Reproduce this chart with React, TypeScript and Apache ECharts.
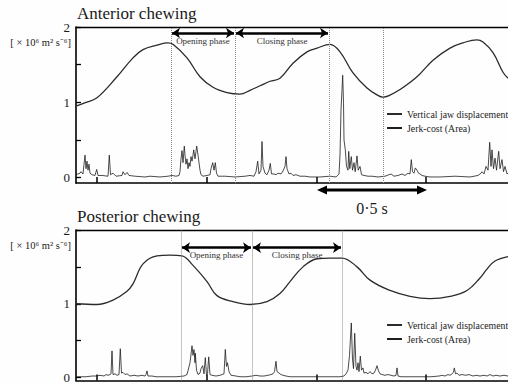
import React, { useEffect, useRef } from 'react';
import * as echarts from 'echarts';

// x values are sample indices (220 samples per second); y values in 10^6 m^2 s^-6 / jaw scale
const X_MAX = 432;
const X_TICKS = [21, 131, 241, 350];
const Y_TICKS = [0, 0.5, 1, 1.5, 2];
const Y_LABELS = [0, 1, 2];
const SCALE_BAR = [241, 351]; // 0.5 s
const SERIES_NAMES = ['Vertical jaw displacement', 'Jerk-cost (Area)'];
const TITLES = ['Anterior chewing', 'Posterior chewing'];
const UNIT_LABEL = '[ × 10⁶ m² s⁻⁶]';
const PHASE_LABELS = ['Opening phase', 'Closing phase'];
const SCALE_LABEL = '0·5 s';

const topBounds = [95, 159, 253, 307];
const bottomBounds = [105, 176, 266];
const topArrowLevel = 1.92;
const bottomArrowLevel = 1.76;

const topJaw: [number, number][] = [
  [0, 0.95], [10, 1.0], [21, 1.06], [41, 1.34], [57, 1.59], [67, 1.7], [81, 1.76], [92, 1.79],
  [97, 1.77], [111, 1.59], [124, 1.34], [137, 1.2], [151, 1.13], [164, 1.11], [174, 1.16],
  [184, 1.22], [194, 1.28], [204, 1.32], [217, 1.52], [231, 1.67], [241, 1.72], [254, 1.77],
  [264, 1.67], [277, 1.39], [291, 1.19], [301, 1.1], [307, 1.07], [313, 1.09], [324, 1.17],
  [341, 1.34], [357, 1.56], [374, 1.72], [387, 1.79], [401, 1.83], [407, 1.8], [417, 1.66],
  [427, 1.4], [432, 1.32],
];

const topJerk: [number, number][] = [
  [0, 0.04], [4, 0.06], [5, 0.08], [7, 0.05], [8, 0.18], [9, 0.3], [10, 0.12], [11, 0.22], [12, 0.1],
  [13, 0.18], [14, 0.06], [16, 0.04], [19, 0.03], [20.7, 0.11], [22, 0.03], [26, 0.03], [32, 0.02],
  [33.3, 0.3], [34.5, 0.04], [37, 0.06], [40, 0.02], [46, 0.03], [47, 0.08], [49, 0.04], [51, 0.07],
  [53, 0.03], [59, 0.02], [69, 0.01], [74, 0.02], [84, 0.01], [92, 0.02], [96, 0.03], [100, 0.02],
  [103, 0.03], [104, 0.08], [105, 0.25], [106, 0.36], [107, 0.2], [108.3, 0.42], [109, 0.3], [110, 0.18],
  [111, 0.25], [112, 0.12], [113, 0.2], [114, 0.15], [115, 0.28], [116, 0.22], [117, 0.3], [117.7, 0.37],
  [119, 0.25], [120, 0.35], [120.7, 0.42], [122, 0.3], [123, 0.2], [124, 0.1], [125, 0.04], [127, 0.02],
  [131, 0.03], [134, 0.04], [135, 0.12], [136.7, 0.2], [138, 0.1], [139.3, 0.2], [140.5, 0.06], [142, 0.02],
  [149, 0.02], [159, 0.01], [169, 0.02], [174, 0.03], [178, 0.02], [180, 0.08], [181.7, 0.22], [183, 0.05],
  [185, 0.1], [186, 0.48], [187, 0.15], [189, 0.06], [191, 0.04], [193, 0.1], [194.3, 0.19], [195.5, 0.05],
  [198, 0.05], [200, 0.04], [202, 0.06], [205, 0.05], [207, 0.09], [209, 0.15], [210, 0.28], [211, 0.12],
  [213, 0.05], [215, 0.06], [217, 0.03], [220, 0.04], [224, 0.02], [229, 0.02], [234, 0.01], [244, 0.01],
  [254, 0.02], [260, 0.01], [263, 0.05], [264, 0.3], [265, 0.9], [266, 1.17], [266.7, 1.36], [267.5, 1.0],
  [268, 0.5], [269.3, 0.37], [270.5, 0.15], [272, 0.1], [272.7, 0.35], [273.8, 0.12], [275.3, 0.28],
  [276.5, 0.1], [278, 0.2], [279.2, 0.08], [281, 0.29], [282.2, 0.1], [284, 0.15], [285.5, 0.04],
  [288, 0.03], [292, 0.02], [296, 0.02], [302, 0.01], [309, 0.02], [313, 0.04], [315, 0.05], [318, 0.02],
  [322, 0.03], [326, 0.05], [329, 0.03], [332, 0.06], [334, 0.05], [335.3, 0.24], [336.5, 0.08], [338, 0.06],
  [339.3, 0.13], [341, 0.1], [342.5, 0.06], [344, 0.05], [346, 0.03], [349, 0.02], [354, 0.01], [364, 0.01],
  [379, 0.02], [394, 0.01], [402, 0.03], [405, 0.06], [406, 0.08], [408, 0.05], [410, 0.15], [412, 0.1],
  [413.7, 0.47], [415, 0.15], [416, 0.37], [417.5, 0.12], [419, 0.26], [420.5, 0.1], [422.7, 0.35],
  [424, 0.12], [426, 0.24], [427.5, 0.08], [429, 0.15], [431, 0.05], [432, 0.06],
];

const bottomJaw: [number, number][] = [
  [0, 1.0], [21, 0.99], [37, 1.05], [51, 1.17], [57, 1.27], [67, 1.54], [81, 1.65], [94, 1.66],
  [106, 1.65], [117, 1.52], [131, 1.3], [141, 1.11], [157, 1.03], [174, 0.99], [191, 1.03], [204, 1.14],
  [214, 1.3], [227, 1.5], [241, 1.61], [254, 1.62], [266, 1.62], [281, 1.5], [294, 1.32], [314, 1.18],
  [334, 1.1], [354, 1.07], [374, 1.1], [391, 1.18], [404, 1.35], [411, 1.47], [419, 1.58], [432, 1.64],
];

const bottomJerk: [number, number][] = [
  [0, 0.01], [10, 0.01], [16, 0.02], [20, 0.02], [24, 0.03], [28, 0.02], [30, 0.04], [32, 0.03], [34, 0.04],
  [35, 0.05], [36, 0.36], [37, 0.04], [39, 0.05], [41, 0.03], [43, 0.04], [44.3, 0.39], [45.5, 0.06],
  [47, 0.07], [49, 0.04], [51, 0.05], [54, 0.02], [58, 0.03], [62, 0.02], [66, 0.03], [69, 0.02], [70, 0.04],
  [71, 0.09], [72, 0.02], [76, 0.02], [80, 0.01], [90, 0.01], [100, 0.01], [108, 0.02], [111, 0.04],
  [114, 0.2], [116, 0.43], [117, 0.3], [118, 0.38], [119, 0.2], [119.3, 0.33], [120.5, 0.1], [122, 0.04],
  [124, 0.06], [125, 0.12], [126.7, 0.16], [128, 0.05], [129.3, 0.27], [130.5, 0.03], [131.5, 0.05],
  [132.7, 0.28], [134, 0.04], [136, 0.03], [140, 0.02], [144, 0.03], [146, 0.04], [148, 0.05], [149.3, 0.38],
  [150.5, 0.15], [151.5, 0.2], [153, 0.08], [155, 0.03], [160, 0.02], [164, 0.01], [170, 0.01], [176, 0.02],
  [180, 0.03], [184, 0.02], [188, 0.02], [192, 0.03], [195, 0.04], [197, 0.05], [198.5, 0.08], [200, 0.22],
  [201, 0.08], [203, 0.06], [205, 0.04], [207, 0.03], [210, 0.02], [214, 0.01], [230, 0.01], [250, 0.01],
  [264, 0.01], [268, 0.02], [270, 0.05], [272, 0.1], [273.5, 0.3], [275.3, 0.74], [276.5, 0.25],
  [277.5, 0.12], [278.7, 0.6], [280, 0.15], [281, 0.1], [282, 0.2], [283, 0.08], [284.3, 0.29], [285.5, 0.1],
  [287, 0.13], [288, 0.06], [290, 0.07], [292, 0.05], [294, 0.08], [296, 0.05], [298, 0.06], [299.5, 0.1],
  [301, 0.16], [302.5, 0.09], [304, 0.05], [306, 0.04], [309, 0.03], [312, 0.04], [315, 0.03], [318, 0.02],
  [320, 0.03], [321, 0.13], [322, 0.02], [325, 0.01], [335, 0.01], [345, 0.01], [355, 0.01], [363, 0.02],
  [366, 0.03], [369, 0.02], [372, 0.04], [374, 0.03], [376, 0.05], [377.5, 0.07], [378.3, 0.13],
  [379.5, 0.05], [381, 0.06], [383, 0.03], [386, 0.04], [390, 0.03], [393, 0.04], [397, 0.02], [400, 0.03],
  [404, 0.02], [408, 0.03], [411, 0.02], [414, 0.04], [417, 0.02], [420, 0.03], [424, 0.02], [428, 0.03],
  [432, 0.02],
];

const FONT = "'Liberation Serif', 'Times New Roman', serif";
const INK = '#1a1a1a';

function xAxes(gridIndex: number) {
  return [
    {
      type: 'value', gridIndex, position: 'bottom', min: 0, max: X_MAX,
      axisLine: { show: true, onZero: false, lineStyle: { color: '#000', width: 1.6 } },
      axisTick: { show: true, inside: true, length: 6, customValues: X_TICKS, lineStyle: { color: '#000', width: 1.5 } },
      axisLabel: { show: false }, splitLine: { show: false },
    },
    {
      type: 'value', gridIndex, position: 'top', min: 0, max: X_MAX,
      axisLine: { show: true, onZero: false, lineStyle: { color: '#000', width: 1.3 } },
      axisTick: { show: false }, axisLabel: { show: false }, splitLine: { show: false },
    },
  ];
}

function yAxis(gridIndex: number, min: number) {
  return {
    type: 'value', gridIndex, min, max: 2,
    axisLine: { show: true, onZero: false, lineStyle: { color: '#000', width: 1.6 } },
    axisTick: { show: true, inside: true, length: 5, customValues: Y_TICKS, lineStyle: { color: '#000', width: 1.3 } },
    axisLabel: { show: true, customValues: Y_LABELS, fontSize: 13, fontFamily: FONT, color: INK, margin: 6 },
    splitLine: { show: false },
  };
}

function arrowLines(bounds: number[], level: number) {
  return [0, 1].map((i) => [
    {
      coord: [bounds[i] + 1, level],
      label: {
        show: true, formatter: PHASE_LABELS[i], position: 'insideMiddleBottom', distance: 3,
        fontSize: 9, fontFamily: FONT, color: '#333',
      },
    },
    { coord: [bounds[i + 1] - 1, level] },
  ]);
}

function panelSeries(jaw: [number, number][], jerk: [number, number][], xIdx: number, yIdx: number, bounds: number[], level: number) {
  return [
    {
      name: SERIES_NAMES[0], type: 'line', xAxisIndex: xIdx, yAxisIndex: yIdx, data: jaw,
      smooth: 0.4, symbol: 'none', silent: true,
      lineStyle: { color: '#2b2b2b', width: 1.3 }, itemStyle: { color: '#2b2b2b' },
      markLine: {
        silent: true, symbol: ['arrow', 'arrow'], symbolSize: 8, animation: false,
        lineStyle: { color: '#000', width: 2.6, type: 'solid' },
        data: arrowLines(bounds, level),
      },
    },
    {
      name: SERIES_NAMES[1], type: 'line', xAxisIndex: xIdx, yAxisIndex: yIdx, data: jerk,
      symbol: 'none', silent: true,
      lineStyle: { color: '#1e1e1e', width: 0.8 }, itemStyle: { color: '#1e1e1e' },
      markLine: {
        silent: true, symbol: 'none', animation: false,
        lineStyle: { color: '#8a8a8a', width: 1, type: 'dotted' },
        label: { show: false },
        data: bounds.map((b) => ({ xAxis: b })),
      },
    },
  ];
}

function legend(left: number, top: number) {
  return {
    left, top, orient: 'vertical', itemWidth: 15, itemHeight: 10, itemGap: 4, padding: 0,
    selectedMode: false, data: SERIES_NAMES,
    itemStyle: { color: 'rgba(0,0,0,0)', borderWidth: 0 },
    textStyle: { fontSize: 9.8, fontFamily: FONT, color: '#222' },
  };
}

export default function App() {
  const ref = useRef<HTMLDivElement>(null);
  useEffect(() => {
    if (!ref.current) return;
    const chart = echarts.init(ref.current, undefined, { renderer: 'svg' });
    chart.setOption({
      animation: false,
      backgroundColor: '#fefefe',
      grid: [
        { left: 76, top: 27, width: 432, height: 156 },
        { left: 76, top: 230, width: 432, height: 153 },
      ],
      xAxis: [...xAxes(0), ...xAxes(1)],
      yAxis: [yAxis(0, -0.07), yAxis(1, -0.04)],
      legend: [legend(386, 109), legend(386, 320)],
      series: [
        ...panelSeries(topJaw, topJerk, 0, 0, topBounds, topArrowLevel),
        ...panelSeries(bottomJaw, bottomJerk, 2, 1, bottomBounds, bottomArrowLevel),
      ],
    });

    const x1 = chart.convertToPixel({ xAxisIndex: 0 }, SCALE_BAR[0]) as number;
    const x2 = chart.convertToPixel({ xAxisIndex: 0 }, SCALE_BAR[1]) as number;
    const by = 190;
    const ah = 10;
    const aw = 4.5;
    chart.setOption({
      graphic: [
        { type: 'text', left: 77, top: 5, style: { text: TITLES[0], fontSize: 17, fontFamily: FONT, fill: INK } },
        { type: 'text', left: 77, top: 208, style: { text: TITLES[1], fontSize: 17, fontFamily: FONT, fill: INK } },
        { type: 'text', x: 71, y: 42, style: { text: UNIT_LABEL, fontSize: 10.5, fontFamily: FONT, fill: INK, align: 'right', verticalAlign: 'middle' } },
        { type: 'text', x: 71, y: 245, style: { text: UNIT_LABEL, fontSize: 10.5, fontFamily: FONT, fill: INK, align: 'right', verticalAlign: 'middle' } },
        { type: 'line', shape: { x1: x1 + ah - 1, y1: by, x2: x2 - ah + 1, y2: by }, style: { stroke: '#000', lineWidth: 3 } },
        { type: 'polygon', shape: { points: [[x1, by], [x1 + ah, by - aw], [x1 + ah, by + aw]] }, style: { fill: '#000' } },
        { type: 'polygon', shape: { points: [[x2, by], [x2 - ah, by - aw], [x2 - ah, by + aw]] }, style: { fill: '#000' } },
        { type: 'text', x: (x1 + x2) / 2, y: 208, style: { text: SCALE_LABEL, fontSize: 16, fontFamily: FONT, fill: INK, align: 'center', verticalAlign: 'middle' } },
      ],
    });
    return () => chart.dispose();
  }, []);
  return <div ref={ref} style={{ position: 'absolute', left: 0, top: 0, width: 508, height: 384, background: '#fff' }} />;
}
